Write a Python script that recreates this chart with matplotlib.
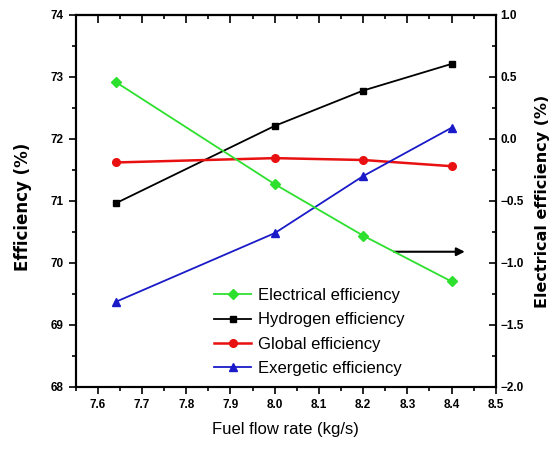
import numpy as np
import matplotlib
matplotlib.use("Agg")
import matplotlib.pyplot as plt
from matplotlib.ticker import MultipleLocator

plt.rcParams["font.family"] = ["Liberation Sans", "DejaVu Sans"]

# data
fuel_flow = [7.64, 8.0, 8.2, 8.4]
electrical = [0.46, -0.365, -0.78, -1.15]      # right axis
hydrogen = [70.96, 72.21, 72.78, 73.21]
global_eff = [71.62, 71.69, 71.66, 71.56]
exergetic = [69.37, 70.48, 71.40, 72.18]
x_ticks = [7.6, 7.7, 7.8, 7.9, 8.0, 8.1, 8.2, 8.3, 8.4, 8.5]

fig = plt.figure(figsize=(5.49, 4.53), dpi=100)
ax = fig.add_axes([0.138, 0.146, 0.765, 0.821])
ax2 = ax.twinx()

l1, = ax2.plot(fuel_flow, electrical, color="#2ee02e", marker="D", ms=5.5, lw=1.3,
               label="Electrical efficiency")
l2, = ax.plot(fuel_flow, hydrogen, color="black", marker="s", ms=5, lw=1.3,
              label="Hydrogen efficiency")
l3, = ax.plot(fuel_flow, global_eff, color="#e81010", marker="o", ms=5.5, lw=1.8,
              label="Global efficiency")
l4, = ax.plot(fuel_flow, exergetic, color="#1a1ac8", marker="^", ms=6, lw=1.3,
              label="Exergetic efficiency")

ax.set_xlim(7.55, 8.5)
ax.set_ylim(68, 74)
ax2.set_ylim(-2.0, 1.0)

ax.set_xticks(x_ticks)
ax.set_xticklabels([f"{v:.1f}" for v in x_ticks])
ax.xaxis.set_minor_locator(MultipleLocator(0.05))
ax.yaxis.set_major_locator(MultipleLocator(1))
ax.yaxis.set_minor_locator(MultipleLocator(0.5))
ax2.yaxis.set_major_locator(MultipleLocator(0.5))
ax2.yaxis.set_minor_locator(MultipleLocator(0.25))

ax.tick_params(axis="x", which="major", direction="out", length=5, width=1.2, labelsize=8.5)
ax.tick_params(axis="x", which="minor", direction="out", length=3, width=1.2)
ax.tick_params(axis="y", which="major", direction="out", length=5, width=1.2, labelsize=8.5)
ax.tick_params(axis="y", which="minor", direction="out", length=3, width=1.2)
ax2.tick_params(axis="y", which="major", direction="in", length=5, width=1.2, labelsize=8.5)
ax2.tick_params(axis="y", which="minor", direction="in", length=3, width=1.2)
for lbl in ax.get_xticklabels() + ax.get_yticklabels() + ax2.get_yticklabels():
    lbl.set_fontweight("bold")

# ticks on the top spine point inwards
top = ax.secondary_xaxis("top")
top.set_xticks(x_ticks)
top.xaxis.set_minor_locator(MultipleLocator(0.05))
top.tick_params(axis="x", which="major", direction="in", length=6, width=1.2, labeltop=False)
top.tick_params(axis="x", which="minor", direction="in", length=3, width=1.2)

for sp in list(ax.spines.values()) + list(ax2.spines.values()) + list(top.spines.values()):
    sp.set_linewidth(1.5)

ax.set_xlabel("Fuel flow rate (kg/s)", fontsize=12, labelpad=8)
ax.set_ylabel("Efficiency (%)", fontsize=12, fontweight="bold",
              family=["DejaVu Sans"])
ax.yaxis.set_label_coords(-0.105, 0.485)
ax2.set_ylabel("Electrical efficiency (%)", fontsize=11.5, fontweight="bold", labelpad=8,
               family=["DejaVu Sans"])

ax.annotate("", xy=(8.43, 70.18), xytext=(8.27, 70.18),
            arrowprops=dict(arrowstyle="-|>", color="black", lw=1.5, mutation_scale=12,
                            shrinkA=0, shrinkB=0))

ax.legend(handles=[l1, l2, l3, l4], loc="lower left", bbox_to_anchor=(0.33, 0.03),
          frameon=False, fontsize=12, handlelength=2.2, labelspacing=0.55,
          handletextpad=0.4, borderpad=0, borderaxespad=0)

fig.savefig("out.png", dpi=100)
